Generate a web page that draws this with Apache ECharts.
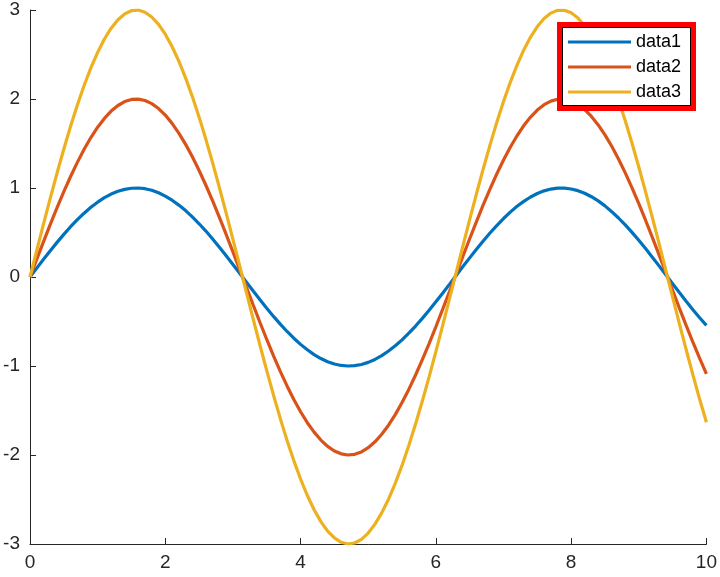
<!DOCTYPE html>
<html>
<head>
<meta charset="utf-8">
<script src="https://cdn.jsdelivr.net/npm/echarts@6/dist/echarts.min.js"></script>
<style>
html, body { margin: 0; padding: 0; background: #fff; }
#main { width: 720px; height: 577px; }
</style>
</head>
<body>
<div id="main"></div>
<script>
// x samples (step 0.1) and values
var xs = [0, 0.1, 0.2, 0.3, 0.4, 0.5, 0.6, 0.7, 0.8, 0.9, 1, 1.1, 1.2, 1.3, 1.4, 1.5, 1.6, 1.7, 1.8, 1.9,
	2, 2.1, 2.2, 2.3, 2.4, 2.5, 2.6, 2.7, 2.8, 2.9, 3, 3.1, 3.2, 3.3, 3.4, 3.5, 3.6, 3.7, 3.8, 3.9,
	4, 4.1, 4.2, 4.3, 4.4, 4.5, 4.6, 4.7, 4.8, 4.9, 5, 5.1, 5.2, 5.3, 5.4, 5.5, 5.6, 5.7, 5.8, 5.9,
	6, 6.1, 6.2, 6.3, 6.4, 6.5, 6.6, 6.7, 6.8, 6.9, 7, 7.1, 7.2, 7.3, 7.4, 7.5, 7.6, 7.7, 7.8, 7.9,
	8, 8.1, 8.2, 8.3, 8.4, 8.5, 8.6, 8.7, 8.8, 8.9, 9, 9.1, 9.2, 9.3, 9.4, 9.5, 9.6, 9.7, 9.8, 9.9, 10];
var data1 = [0, 0.100, 0.199, 0.296, 0.389, 0.479, 0.565, 0.644, 0.717, 0.783, 0.841, 0.891, 0.932, 0.964, 0.985, 0.997, 1.000, 0.992, 0.974, 0.946,
	0.909, 0.863, 0.808, 0.746, 0.676, 0.598, 0.516, 0.427, 0.335, 0.239, 0.141, 0.042, -0.058, -0.158, -0.256, -0.351, -0.443, -0.530, -0.612, -0.688,
	-0.757, -0.818, -0.872, -0.916, -0.952, -0.978, -0.994, -1.000, -0.996, -0.983, -0.959, -0.926, -0.884, -0.832, -0.773, -0.706, -0.631, -0.551, -0.465, -0.374,
	-0.279, -0.182, -0.083, 0.017, 0.117, 0.215, 0.312, 0.405, 0.494, 0.578, 0.657, 0.729, 0.794, 0.850, 0.899, 0.938, 0.968, 0.988, 0.999, 0.999,
	0.989, 0.970, 0.941, 0.902, 0.855, 0.799, 0.734, 0.663, 0.585, 0.501, 0.412, 0.319, 0.223, 0.125, 0.025, -0.075, -0.174, -0.272, -0.367, -0.458, -0.544];
var data2 = [0, 0.200, 0.397, 0.591, 0.779, 0.959, 1.129, 1.288, 1.435, 1.567, 1.683, 1.782, 1.864, 1.927, 1.971, 1.995, 1.999, 1.983, 1.948, 1.893,
	1.819, 1.726, 1.617, 1.491, 1.351, 1.197, 1.031, 0.855, 0.670, 0.478, 0.282, 0.083, -0.117, -0.315, -0.511, -0.702, -0.885, -1.060, -1.224, -1.376,
	-1.514, -1.637, -1.743, -1.832, -1.903, -1.955, -1.987, -2.000, -1.992, -1.965, -1.918, -1.852, -1.767, -1.665, -1.546, -1.411, -1.263, -1.101, -0.929, -0.748,
	-0.559, -0.364, -0.166, 0.034, 0.233, 0.430, 0.623, 0.810, 0.988, 1.157, 1.314, 1.458, 1.587, 1.701, 1.797, 1.876, 1.936, 1.976, 1.997, 1.998,
	1.979, 1.940, 1.881, 1.804, 1.709, 1.597, 1.469, 1.326, 1.170, 1.002, 0.824, 0.638, 0.446, 0.249, 0.050, -0.150, -0.349, -0.544, -0.733, -0.915, -1.088];
var data3 = [0, 0.299, 0.596, 0.887, 1.168, 1.438, 1.694, 1.933, 2.152, 2.350, 2.524, 2.674, 2.796, 2.891, 2.956, 2.992, 2.999, 2.975, 2.921, 2.839,
	2.728, 2.590, 2.426, 2.237, 2.027, 1.796, 1.547, 1.282, 1.005, 0.718, 0.423, 0.125, -0.175, -0.473, -0.767, -1.052, -1.328, -1.589, -1.836, -2.063,
	-2.270, -2.455, -2.615, -2.749, -2.855, -2.932, -2.981, -3.000, -2.989, -2.948, -2.877, -2.777, -2.650, -2.497, -2.318, -2.117, -1.894, -1.652, -1.394, -1.122,
	-0.838, -0.547, -0.249, 0.050, 0.349, 0.645, 0.934, 1.214, 1.482, 1.735, 1.971, 2.187, 2.381, 2.551, 2.696, 2.814, 2.904, 2.965, 2.996, 2.997,
	2.968, 2.910, 2.822, 2.707, 2.564, 2.396, 2.203, 1.989, 1.755, 1.503, 1.236, 0.957, 0.669, 0.374, 0.075, -0.226, -0.523, -0.815, -1.100, -1.373, -1.632];
var names = ['data1', 'data2', 'data3'];
var colors = ['#0072BD', '#D95319', '#EDB120'];

function pairs(ys) {
	var out = [];
	for (var i = 0; i < xs.length; i++) {
		out.push([xs[i], ys[i]]);
	}
	return out;
}

var font = '"Liberation Sans", Arial, Helvetica, sans-serif';
var axisColor = '#262626';

var myChart = echarts.init(document.getElementById('main'));
myChart.setOption({
	animation: false,
	color: colors,
	grid: { left: 30, right: 13, top: 10, bottom: 33 },
	xAxis: {
		type: 'value',
		min: 0,
		max: 10,
		interval: 2,
		axisLine: { onZero: false, lineStyle: { color: axisColor, width: 1 } },
		axisTick: { inside: true, length: 6, lineStyle: { color: axisColor } },
		axisLabel: { color: axisColor, fontSize: 19, fontFamily: font, margin: 9 },
		splitLine: { show: false }
	},
	yAxis: {
		type: 'value',
		min: -3,
		max: 3,
		interval: 1,
		axisLine: { show: true, onZero: false, lineStyle: { color: axisColor, width: 1 } },
		axisTick: { show: true, inside: true, length: 6, lineStyle: { color: axisColor } },
		axisLabel: { color: axisColor, fontSize: 19, fontFamily: font, margin: 10 },
		splitLine: { show: false }
	},
	legend: {
		orient: 'vertical',
		left: 568,
		top: 33,
		z: 10,
		icon: 'rect',
		itemWidth: 63,
		itemHeight: 3,
		itemGap: 7,
		padding: 0,
		textStyle: { color: '#000', fontSize: 18, fontFamily: font },
		data: names
	},
	graphic: {
		elements: [
			{ type: 'rect', z: 5, shape: { x: 557, y: 22, width: 139, height: 89 }, style: { fill: '#ff0000' } },
			{ type: 'rect', z: 6, shape: { x: 562.5, y: 27.5, width: 128, height: 78 }, style: { fill: '#fff', stroke: '#000', lineWidth: 1 } }
		]
	},
	series: [
		{ name: names[0], type: 'line', showSymbol: false, lineStyle: { width: 3.2 }, data: pairs(data1) },
		{ name: names[1], type: 'line', showSymbol: false, lineStyle: { width: 3.2 }, data: pairs(data2) },
		{ name: names[2], type: 'line', showSymbol: false, lineStyle: { width: 3.2 }, data: pairs(data3) }
	]
});
</script>
</body>
</html>
